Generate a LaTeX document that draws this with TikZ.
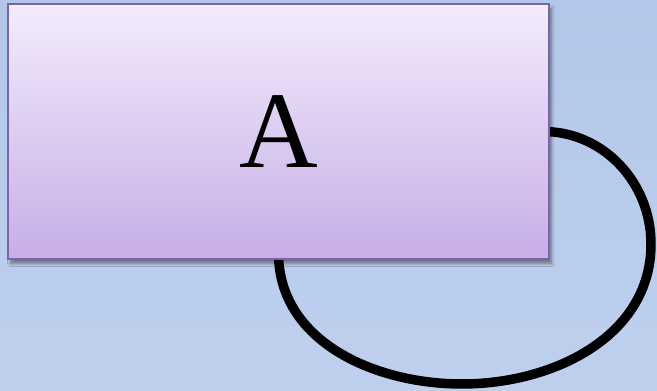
\documentclass[tikz,border=0pt]{standalone}
\usepackage{fontspec}
\setmainfont{Liberation Serif}
\usetikzlibrary{shadows.blur,positioning}
\definecolor{bgtop}{RGB}{178,199,233}
\definecolor{bgbot}{RGB}{191,208,238}
\definecolor{boxtop}{RGB}{243,236,251}
\definecolor{boxbot}{RGB}{199,174,231}
\definecolor{boxline}{RGB}{126,98,170}
\pgfdeclarelayer{back}
\pgfdeclarelayer{loop}
\pgfsetlayers{back,loop,main}
\begin{document}
\begin{tikzpicture}[x=0.02cm,y=-0.02cm,
    statebox/.style={draw=boxline,line width=1.2pt,top color=boxtop,bottom color=boxbot,
        minimum width=10.82cm,minimum height=5.1cm,inner sep=0pt,
        blur shadow={shadow xshift=1.5pt,shadow yshift=-2.5pt,shadow blur steps=6,shadow opacity=45},
        font=\fontsize{62}{70}\selectfont},
    loopline/.style={line width=5.4pt}]
                %Box
                \node[statebox] (a) at (278.5,131.5) {A};
                %Background
                \begin{pgfonlayer}{back}
                \shade[top color=bgtop,bottom color=bgbot] (0,0) rectangle (657,391);
                \end{pgfonlayer}
                \useasboundingbox (0,0) rectangle (657,391);
                %Loop
                \coordinate (loopR) at (651,244);
                \coordinate (loopB) at (462,384);
                \begin{pgfonlayer}{loop}
                \draw[loopline] ([xshift=-4pt]a.east) to[out=0,in=90] (loopR) to[out=-90,in=0] (loopB)
                    to[out=180,in=-90] ([yshift=4pt]a.south);
                \end{pgfonlayer}
            \end{tikzpicture}
\end{document}
